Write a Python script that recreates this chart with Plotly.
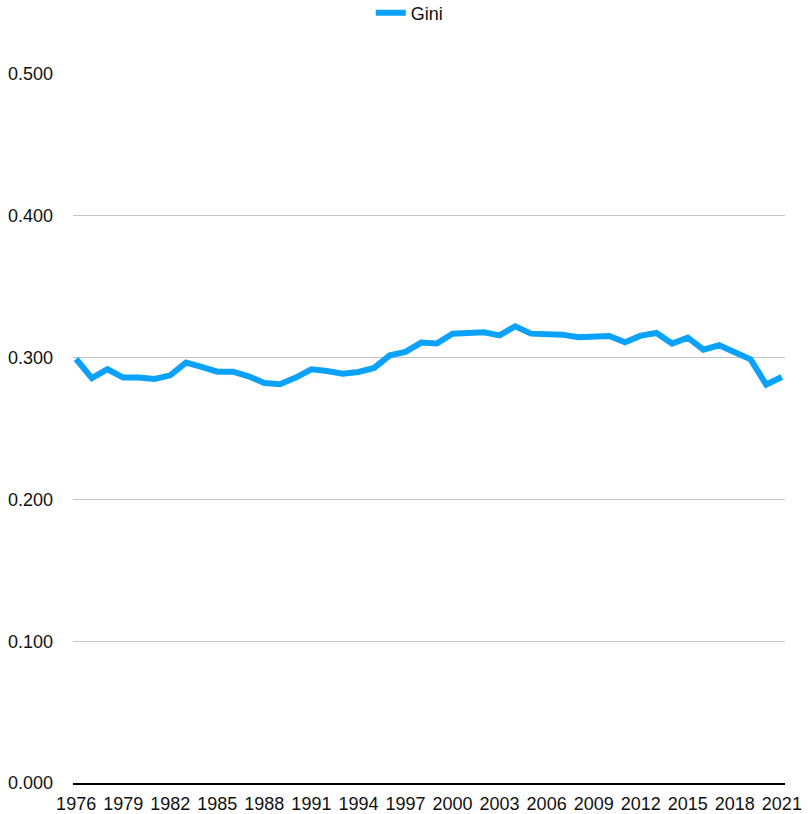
import plotly.graph_objects as go

years = list(range(1976, 2022))
gini = [0.299, 0.2855, 0.2918, 0.2859, 0.2859, 0.2849, 0.2875, 0.2965, 0.2934, 0.2901,
        0.2901, 0.2868, 0.2821, 0.2812, 0.2859, 0.2918, 0.2906, 0.2887, 0.2899, 0.2927,
        0.3016, 0.3040, 0.3106, 0.3099, 0.3169, 0.3178, 0.3178, 0.3157, 0.3221, 0.3169,
        0.3162, 0.3162, 0.3143, 0.3152, 0.3152, 0.3108, 0.3155, 0.3174, 0.3099, 0.3141,
        0.3056, 0.3087, 0.3040, 0.2988, 0.2810, 0.2863]
x_ticks = list(range(1976, 2022, 3))
y_ticks = [0.0, 0.1, 0.2, 0.3, 0.4, 0.5]

FONT = "Liberation Sans, Helvetica, Arial, sans-serif"

fig = go.Figure()
fig.add_trace(go.Scatter(
    x=years, y=gini, mode="lines", name="Gini",
    line=dict(color="#0AA2FC", width=6),
    showlegend=True,
))

fig.update_layout(
    width=808, height=814,
    margin=dict(l=73, r=23, t=74, b=31, autoexpand=False),
    paper_bgcolor="white", plot_bgcolor="white",
    font=dict(family=FONT, size=18, color="#111111"),
    showlegend=True,
    legend=dict(orientation="h", x=0.473, xanchor="center", y=1.086, yanchor="middle",
                font=dict(size=18)),
    xaxis=dict(
        range=[1975.8, 2021.2], tickvals=x_ticks, ticktext=[str(v) for v in x_ticks],
        showgrid=False, zeroline=False, showline=True, linecolor="black", linewidth=2,
        ticks="", tickangle=0, tickfont=dict(size=18), automargin=False,
        ticklabelstandoff=3,
    ),
    yaxis=dict(
        range=[0, 0.5], tickvals=y_ticks, tickformat=".3f",
        showgrid=True, gridcolor="#C4C4C4", gridwidth=1, zeroline=False,
        showline=False, ticks="", ticklabelstandoff=19, tickfont=dict(size=18),
        automargin=False,
    ),
)

fig.write_html(
    "out.html",
    config={"displayModeBar": False},
    post_script="document.body.style.margin='0';document.body.style.overflow='hidden';",
)
